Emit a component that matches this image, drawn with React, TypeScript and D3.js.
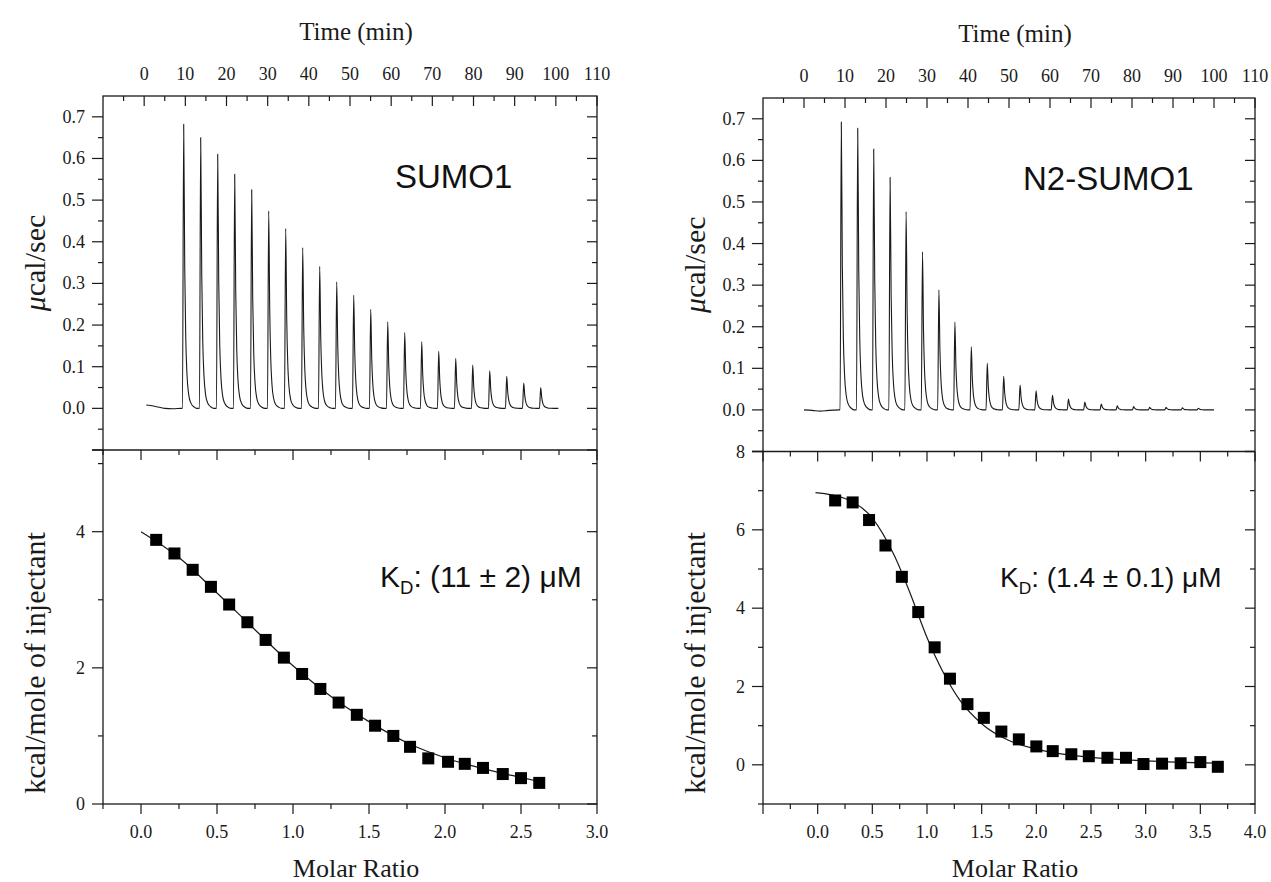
import * as d3 from "d3";

// ---- SUMO1 (left) ----
const leftInjTimes = [9.3, 13.43, 17.56, 21.69, 25.82, 29.95, 34.08, 38.21, 42.34, 46.47, 50.6, 54.73, 58.86, 62.99, 67.12, 71.25, 75.38, 79.51, 83.64, 87.77, 91.9, 96.03];
const leftPeaks = [0.682, 0.65, 0.61, 0.562, 0.525, 0.474, 0.432, 0.386, 0.341, 0.304, 0.272, 0.238, 0.208, 0.182, 0.16, 0.137, 0.12, 0.104, 0.09, 0.077, 0.061, 0.05];
const leftPre: [number, number][] = [[0.5, 0.008], [1.5, 0.007], [3, 0.004], [5, 0.0], [7, -0.001], [9.0, 0.0]];
const leftPost: [number, number][] = [[99.8, 0.0], [100.6, 0.0]];
const leftRatio = [0.1, 0.22, 0.34, 0.46, 0.58, 0.7, 0.82, 0.94, 1.06, 1.18, 1.3, 1.42, 1.54, 1.66, 1.77, 1.89, 2.02, 2.13, 2.25, 2.38, 2.5, 2.62];
const leftHeat = [3.88, 3.68, 3.44, 3.19, 2.93, 2.67, 2.41, 2.15, 1.91, 1.69, 1.49, 1.31, 1.15, 1.0, 0.84, 0.67, 0.62, 0.59, 0.53, 0.44, 0.38, 0.31];
const leftFitRatio = [0.0, 0.25, 0.5, 0.75, 1.0, 1.25, 1.5, 1.75, 2.0, 2.25, 2.5, 2.62];
const leftFitHeat = [4.0, 3.62, 3.1, 2.56, 2.03, 1.58, 1.21, 0.9, 0.68, 0.52, 0.39, 0.33];

// ---- N2-SUMO1 (right) ----
const rightInjTimes = [8.8, 12.8, 16.7, 20.7, 24.6, 28.6, 32.6, 36.5, 40.5, 44.4, 48.4, 52.4, 56.3, 60.3, 64.2, 68.2, 72.2, 76.1, 80.1, 84.0, 88.0, 92.0, 95.9];
const rightPeaks = [0.692, 0.677, 0.627, 0.559, 0.477, 0.38, 0.289, 0.211, 0.152, 0.112, 0.081, 0.06, 0.046, 0.035, 0.026, 0.019, 0.014, 0.01, 0.008, 0.006, 0.006, 0.005, 0.004];
const rightPre: [number, number][] = [[0, 0.0], [2, -0.001], [4, -0.003], [6, -0.001], [8.5, 0.0]];
const rightPost: [number, number][] = [[99.5, 0.0], [100, 0.0]];
const rightRatio = [0.16, 0.32, 0.47, 0.62, 0.77, 0.92, 1.07, 1.21, 1.37, 1.52, 1.68, 1.84, 2.0, 2.15, 2.32, 2.48, 2.65, 2.82, 2.98, 3.15, 3.32, 3.5, 3.66];
const rightHeat = [6.75, 6.7, 6.25, 5.6, 4.8, 3.9, 3.0, 2.2, 1.55, 1.2, 0.85, 0.65, 0.47, 0.35, 0.27, 0.22, 0.18, 0.18, 0.02, 0.03, 0.04, 0.07, -0.05];
const rightFitRatio = [-0.02, 0.25, 0.5, 0.7, 0.85, 1.0, 1.15, 1.3, 1.5, 1.75, 2.0, 2.5, 3.0, 3.66];
const rightFitHeat = [6.95, 6.8, 6.3, 5.35, 4.35, 3.25, 2.35, 1.65, 1.05, 0.62, 0.4, 0.19, 0.1, 0.04];

// one injection peak: [minutes after injection, fraction of peak height]
const peakShape: [number, number][] = [[0, 0], [0.3, 1], [0.55, 0.5], [0.8, 0.25], [1.1, 0.12], [1.5, 0.05], [2.0, 0.02], [2.8, 0.005], [3.5, 0]];

const timeTicks = [0, 10, 20, 30, 40, 50, 60, 70, 80, 90, 100, 110];
const powerTicks = [-0.1, 0.0, 0.1, 0.2, 0.3, 0.4, 0.5, 0.6, 0.7];

const serif = "'Liberation Serif', 'Times New Roman', serif";
const sans = "'Liberation Sans', Arial, sans-serif";
const ink = "#1a1a1a";

type PanelProps = {
  x0: number; x1: number; yTop: number; yMid: number; yBot: number;
  times: number[]; peaks: number[]; pre: [number, number][]; post: [number, number][];
  ratio: number[]; heat: number[]; fitRatio: number[]; fitHeat: number[];
  ratioDomain: [number, number]; ratioMajor: number[]; ratioMinor: number[];
  heatDomain: [number, number]; heatMajor: number[]; heatMinor: number[]; heatLabels: number[];
  name: string; kd: string; nameX: number; kdX: number; kdSize: number;
};

const Panel = (p: PanelProps) => {
  const xT = d3.scaleLinear().domain([-10, 110]).range([p.x0, p.x1]);
  const yP = d3.scaleLinear().domain([-0.1, 0.75]).range([p.yMid, p.yTop]);
  const xR = d3.scaleLinear().domain(p.ratioDomain).range([p.x0, p.x1]);
  const yH = d3.scaleLinear().domain(p.heatDomain).range([p.yBot, p.yMid]);

  const pts: [number, number][] = [...p.pre];
  p.times.forEach((t, i) => peakShape.forEach(([dt, f]) => pts.push([t + dt, f * p.peaks[i]])));
  pts.push(...p.post);
  const trace = d3.line<[number, number]>().x(d => xT(d[0])).y(d => yP(d[1])).curve(d3.curveMonotoneX)(pts) || "";

  const fit = d3.line<number>().x(d => xR(d)).y((d, i) => yH(p.fitHeat[i])).curve(d3.curveMonotoneX)(p.fitRatio) || "";

  const timeMinor = d3.range(-5, 110, 10);
  const powerMinor = d3.range(-0.05, 0.75, 0.1);
  const fmt1 = d3.format(".1f");

  return (
    <g>
      {/* frames */}
      <rect x={p.x0} y={p.yTop} width={p.x1 - p.x0} height={p.yBot - p.yTop} fill="none" stroke={ink} strokeWidth={1.3} />
      <line x1={p.x0 - 11} x2={p.x1} y1={p.yMid} y2={p.yMid} stroke={ink} strokeWidth={1.3} />

      {/* top time axis (ticks inward) */}
      {timeTicks.map(t => (
        <g key={"t" + t}>
          <line x1={xT(t)} x2={xT(t)} y1={p.yTop} y2={p.yTop + 10} stroke={ink} strokeWidth={1.2} />
          <text x={xT(t)} y={p.yTop - 16} textAnchor="middle" fontFamily={serif} fontSize={18} fill={ink}>{t}</text>
        </g>
      ))}
      {timeMinor.map(t => (
        <line key={"tm" + t} x1={xT(t)} x2={xT(t)} y1={p.yTop} y2={p.yTop + 5} stroke={ink} strokeWidth={1.2} />
      ))}
      <text x={(p.x0 + p.x1) / 2 + 6} y={p.yTop - 56} textAnchor="middle" fontFamily={serif} fontSize={25} fill={ink}>Time (min)</text>

      {/* power axes */}
      {powerTicks.map(v => (
        <g key={"p" + v}>
          <line x1={p.x0 - 11} x2={p.x0} y1={yP(v)} y2={yP(v)} stroke={ink} strokeWidth={1.2} />
          <line x1={p.x1 - 10} x2={p.x1} y1={yP(v)} y2={yP(v)} stroke={ink} strokeWidth={1.2} />
          {v >= 0 && (
            <text x={p.x0 - 18} y={yP(v) + 6} textAnchor="end" fontFamily={serif} fontSize={18} fill={ink}>{fmt1(v)}</text>
          )}
        </g>
      ))}
      {powerMinor.map(v => (
        <g key={"pm" + v}>
          <line x1={p.x0 - 5} x2={p.x0} y1={yP(v)} y2={yP(v)} stroke={ink} strokeWidth={1.2} />
          <line x1={p.x1 - 5} x2={p.x1} y1={yP(v)} y2={yP(v)} stroke={ink} strokeWidth={1.2} />
        </g>
      ))}
      <text transform={`translate(${p.x0 - 58},${(p.yTop + p.yMid) / 2 - 10}) rotate(-90)`} textAnchor="middle" fontFamily={serif} fontSize={30} fill={ink}>
        <tspan fontStyle="italic">μ</tspan>cal/sec
      </text>

      {/* thermogram */}
      <path d={trace} fill="none" stroke={ink} strokeWidth={1.1} />
      <text x={p.nameX} y={p.yTop + 92} fontFamily={sans} fontSize={33} fill="#111">{p.name}</text>

      {/* molar ratio axes: bottom outward, top (divider) inward */}
      {p.ratioMajor.map(v => (
        <g key={"r" + v}>
          <line x1={xR(v)} x2={xR(v)} y1={p.yBot} y2={p.yBot + 10} stroke={ink} strokeWidth={1.2} />
          <line x1={xR(v)} x2={xR(v)} y1={p.yMid} y2={p.yMid + 10} stroke={ink} strokeWidth={1.2} />
          {v >= 0 && (
            <text x={xR(v)} y={p.yBot + 34} textAnchor="middle" fontFamily={serif} fontSize={18} fill={ink}>{fmt1(v)}</text>
          )}
        </g>
      ))}
      {p.ratioMinor.map(v => (
        <g key={"rm" + v}>
          <line x1={xR(v)} x2={xR(v)} y1={p.yBot} y2={p.yBot + 5} stroke={ink} strokeWidth={1.2} />
          <line x1={xR(v)} x2={xR(v)} y1={p.yMid} y2={p.yMid + 5} stroke={ink} strokeWidth={1.2} />
        </g>
      ))}
      <text x={(p.x0 + p.x1) / 2 + 6} y={p.yBot + 73} textAnchor="middle" fontFamily={serif} fontSize={26} fill={ink}>Molar Ratio</text>

      {/* heat axes */}
      {p.heatMajor.map(v => (
        <g key={"h" + v}>
          <line x1={p.x0 - 11} x2={p.x0} y1={yH(v)} y2={yH(v)} stroke={ink} strokeWidth={1.2} />
          <line x1={p.x1 - 10} x2={p.x1} y1={yH(v)} y2={yH(v)} stroke={ink} strokeWidth={1.2} />
        </g>
      ))}
      {p.heatLabels.map(v => (
        <text key={"hl" + v} x={p.x0 - 18} y={yH(v) + 6} textAnchor="end" fontFamily={serif} fontSize={18} fill={ink}>{v}</text>
      ))}
      {p.heatMinor.map(v => (
        <g key={"hm" + v}>
          <line x1={p.x0 - 5} x2={p.x0} y1={yH(v)} y2={yH(v)} stroke={ink} strokeWidth={1.2} />
          <line x1={p.x1 - 5} x2={p.x1} y1={yH(v)} y2={yH(v)} stroke={ink} strokeWidth={1.2} />
        </g>
      ))}
      <text transform={`translate(${p.x0 - 58},${663}) rotate(-90)`} textAnchor="middle" fontFamily={serif} fontSize={30} fill={ink}>kcal/mole of injectant</text>

      {/* isotherm */}
      <path d={fit} fill="none" stroke={ink} strokeWidth={1.2} />
      {p.ratio.map((r, i) => (
        <rect key={"s" + i} x={xR(r) - 6} y={yH(p.heat[i]) - 6} width={12} height={12} fill="#000" />
      ))}
      <text x={p.kdX} y={587} fontFamily={sans} fontSize={p.kdSize} fill="#111">
        K<tspan fontSize={p.kdSize * 0.62} dy={7}>D</tspan><tspan dy={-7}>{p.kd}</tspan>
      </text>
    </g>
  );
};

export default function App() {
  return (
    <svg width={1271} height={882} style={{ position: "absolute", left: 0, top: 0, background: "#fff" }}>
      <rect width={1271} height={882} fill="#fff" />
      <Panel
        x0={103} x1={597} yTop={96} yMid={450} yBot={804}
        times={leftInjTimes} peaks={leftPeaks} pre={leftPre} post={leftPost}
        ratio={leftRatio} heat={leftHeat} fitRatio={leftFitRatio} fitHeat={leftFitHeat}
        ratioDomain={[-0.25, 3.0]} ratioMajor={[0, 0.5, 1, 1.5, 2, 2.5, 3]} ratioMinor={[-0.25, 0.25, 0.75, 1.25, 1.75, 2.25, 2.75]}
        heatDomain={[0, 5.2]} heatMajor={[0, 2, 4]} heatMinor={[1, 3, 5]} heatLabels={[0, 2, 4]}
        name="SUMO1" kd=": (11 ± 2) μM" nameX={395} kdX={380} kdSize={30}
      />
      <Panel
        x0={763} x1={1255} yTop={98} yMid={451.5} yBot={804}
        times={rightInjTimes} peaks={rightPeaks} pre={rightPre} post={rightPost}
        ratio={rightRatio} heat={rightHeat} fitRatio={rightFitRatio} fitHeat={rightFitHeat}
        ratioDomain={[-0.5, 4.0]} ratioMajor={[-0.5, 0, 0.5, 1, 1.5, 2, 2.5, 3, 3.5, 4]} ratioMinor={[-0.25, 0.25, 0.75, 1.25, 1.75, 2.25, 2.75, 3.25, 3.75]}
        heatDomain={[-1, 8]} heatMajor={[0, 2, 4, 6, 8]} heatMinor={[-1, 1, 3, 5, 7]} heatLabels={[0, 2, 4, 6, 8]}
        name="N2-SUMO1" kd=": (1.4 ± 0.1) μM" nameX={1023} kdX={1000} kdSize={28}
      />
    </svg>
  );
}
